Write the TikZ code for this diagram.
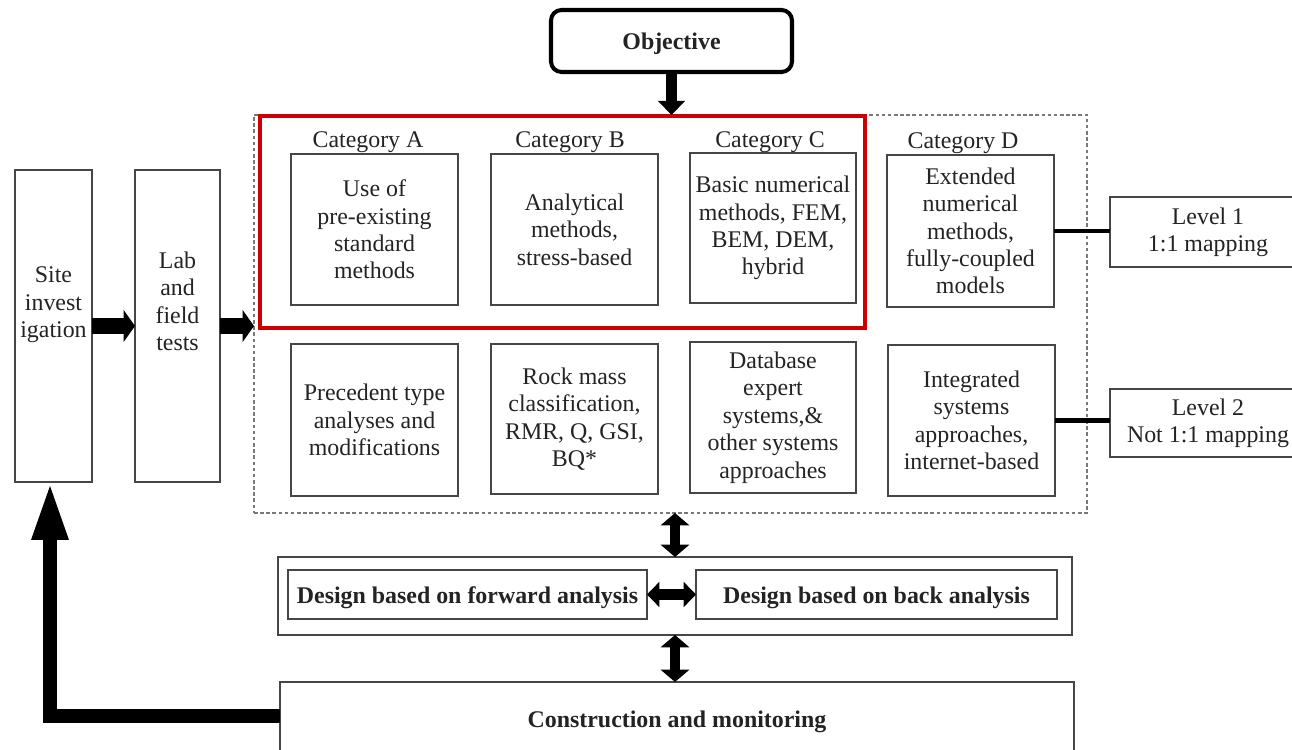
\documentclass[tikz,border=0pt]{standalone}
\usepackage{fontspec}
\setmainfont{Liberation Serif}
\usetikzlibrary{arrows.meta,calc}
\definecolor{redbox}{RGB}{204,0,0}
\definecolor{boxline}{RGB}{70,70,70}
\definecolor{txt}{RGB}{35,35,35}
\definecolor{dashgray}{RGB}{120,120,120}
\begin{document}
\begin{tikzpicture}[x=0.02cm,y=-0.02cm,
  font=\fontsize{13.6}{15.6}\selectfont, text=txt,
  box/.style={draw=boxline,line width=1.1pt,inner sep=0pt,outer sep=0pt,align=center},
  boldtxt/.style={font=\fontsize{13.6}{15.6}\selectfont\bfseries,text height=12.8pt,text depth=2.9pt},
  sz/.style 2 args={minimum width=#1*0.02cm,minimum height=#2*0.02cm},
  lbl/.style={inner sep=0pt,align=center},
  fatarrow/.style={line width=8.8pt,-{Triangle[length=6.5pt,width=18pt]}},
  dblv/.style={line width=5.7pt,{Triangle[length=7pt,width=16pt]}-{Triangle[length=7pt,width=16pt]}},
  dblh/.style={line width=6pt,{Triangle[length=7pt,width=14pt]}-{Triangle[length=7pt,width=14pt]}},
  link/.style={line width=2.4pt,black}]
\useasboundingbox (0,0) rectangle (1292,750);
\clip (0,0) rectangle (1292,750);

% Objective
\node[box,sz={241}{62},draw=black,line width=2.3pt,rounded corners=6pt,boldtxt] (obj) at (671.5,41) {Objective};

% dashed frame
\node[draw=dashgray,line width=0.6pt,dash pattern=on 2pt off 1.5pt,sz={833}{398},inner sep=0pt,outer sep=0pt] (frame) at (670.5,314) {};
% red highlight
\node[draw=redbox,line width=2.5pt,sz={605}{212},inner sep=0pt,outer sep=0pt] (red) at (562.5,222) {};

% category labels
\node[lbl] (catA) at (368,142) {Category A};
\node[lbl] (catB) at (570,142) {Category B};
\node[lbl] (catC) at (770,142) {Category C};
\node[lbl] (catD) at (963,143) {Category D};

% row 1
\node[box,sz={167}{151}] (A1) at (374.5,229.5) {Use of\\pre-existing\\standard\\methods};
\node[box,sz={167}{151}] (B1) at (574.5,229.5) {Analytical\\methods,\\stress-based};
\node[box,sz={166}{150}] (C1) at (773,228) {Basic numerical\\methods, FEM,\\BEM, DEM,\\hybrid};
\node[box,sz={167}{152}] (D1) at (970.5,231) {Extended\\numerical\\methods,\\fully-coupled\\models};

% row 2
\node[box,sz={167}{152}] (A2) at (374.5,420) {Precedent type\\analyses and\\modifications};
\node[box,sz={167}{150}] (B2) at (574.5,419) {Rock mass\\classification,\\RMR, Q, GSI,\\BQ*};
\node[box,sz={166}{151}] (C2) at (773,417.5) {Database\\expert\\systems,\&\\other systems\\approaches};
\node[box,sz={167}{151}] (D2) at (971.5,420.5) {Integrated\\systems\\approaches,\\internet-based};

% levels
\node[box,sz={196}{70}] (L1) at (1208,232) {Level 1\\1:1 mapping};
\node[box,sz={196}{68}] (L2) at (1208,423) {Level 2\\Not 1:1 mapping};
\draw[link] (D1.east) -- (D1.east -| L1.west);
\draw[link] (D2.east) -- (D2.east -| L2.west);

% site / lab
\node[box,sz={77}{312}] (site) at (53.5,326) {};
\node[lbl] (sitetxt) at (53.5,305) {Site\\invest\\igation};
\node[box,sz={85}{312}] (lab) at (177.5,326) {};
\node[lbl] (labtxt) at (177.5,301.5) {Lab\\and\\field\\tests};

\draw[fatarrow] (site.east) -- (lab.west);
\draw[fatarrow] (lab.east) -- (lab.east -| frame.west);

% objective arrow
\draw[line width=6.8pt,-{Triangle[length=8pt,width=15pt]}] (obj.south) -- (obj.south |- frame.north);

% design
\node[box,sz={794}{78}] (design) at (675,596) {};
\node[box,sz={359}{49},boldtxt] (fwd) at (467.5,594.5) {Design based on forward analysis};
\node[box,sz={361}{49},boldtxt] (back) at (876.5,594.5) {Design based on back analysis};
\draw[dblh] (fwd.east) -- (back.west);

% construction
\node[box,sz={794}{74},boldtxt] (constr) at (677,719) {Construction and monitoring};

\draw[dblv] (design.north |- frame.south) -- (design.north);
\draw[dblv] (design.south) -- (design.south |- constr.north);

% feedback arrow
\draw[line width=7.5pt,line join=miter,-{Triangle[length=33pt,width=19pt]}] (constr.west |- 0,716) -- (50,716) -- (50,482);
\end{tikzpicture}
\end{document}
